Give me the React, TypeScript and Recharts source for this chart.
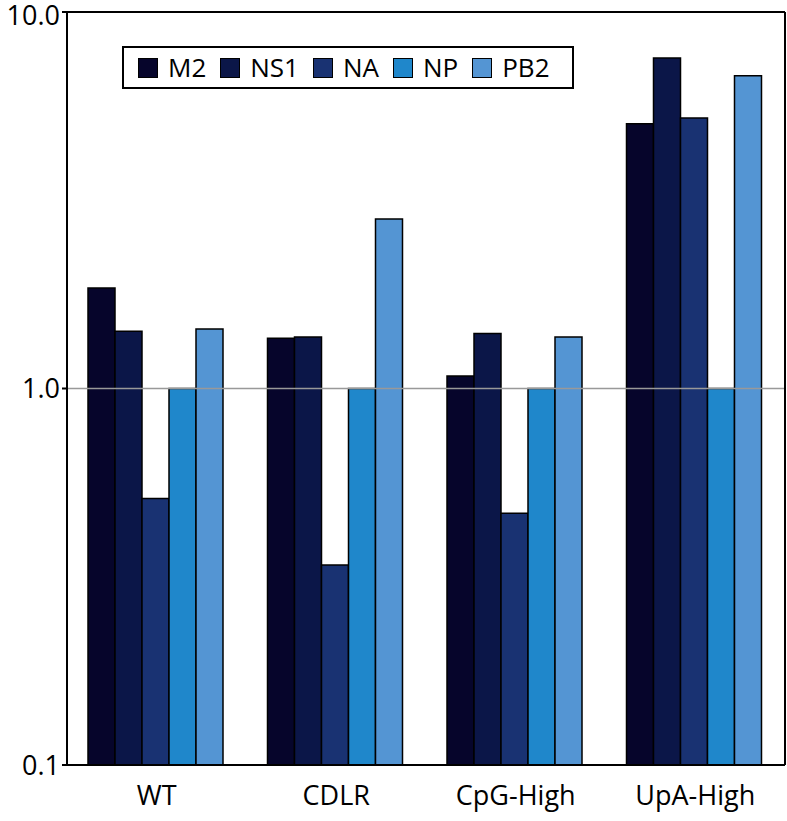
import { BarChart, Bar, XAxis, YAxis, ReferenceLine } from 'recharts';

const categories = ['WT', 'CDLR', 'CpG-High', 'UpA-High'];
const m2 = [1.85, 1.36, 1.08, 5.05];
const ns1 = [1.42, 1.37, 1.4, 7.55];
const na = [0.51, 0.34, 0.466, 5.23];
const np = [1.0, 1.0, 1.0, 1.0];
const pb2 = [1.44, 2.82, 1.37, 6.77];
const yTicks = [0.1, 1, 10];

const SERIES = [
    { key: 'M2', values: m2, color: '#06052b' },
    { key: 'NS1', values: ns1, color: '#0b1648' },
    { key: 'NA', values: na, color: '#193272' },
    { key: 'NP', values: np, color: '#1f87cb' },
    { key: 'PB2', values: pb2, color: '#5495d3' },
];

const data = categories.map((name) => {
    const row: Record<string, string | number> = { name };
    return row;
});
SERIES.forEach((s) => {
    s.values.forEach((v, i) => {
        data[i][s.key] = v;
    });
});

const FONT = '"Open Sans", "Noto Sans", sans-serif';

// legend drawn as an overlay box, like the original's framed key
function LegendBox() {
    return (
        <div
            style={{
                position: 'absolute',
                left: 122,
                top: 46,
                width: 434,
                height: 39,
                boxSizing: 'content-box',
                display: 'flex',
                alignItems: 'center',
                border: '2px solid #000',
                background: '#fff',
                paddingLeft: 14,
                fontFamily: FONT,
                fontSize: 26,
                lineHeight: '39px',
                whiteSpace: 'nowrap',
            }}
        >
            {SERIES.map((s) => (
                <span key={s.key} style={{ display: 'inline-flex', alignItems: 'center', marginRight: 14 }}>
                    <span
                        style={{
                            width: 18,
                            height: 18,
                            background: s.color,
                            border: '1.5px solid #000',
                            marginRight: 10,
                            display: 'inline-block',
                        }}
                    />
                    {s.key}
                </span>
            ))}
        </div>
    );
}

export default function App() {
    return (
        <div style={{ position: 'absolute', left: 0, top: 0, background: '#fff' }}>
            <BarChart
                width={787}
                height={821}
                data={data}
                margin={{ top: 11, right: 1, left: 0, bottom: 0 }}
                barCategoryGap="11.7%"
                barGap={0}
            >
                {/* plain axis carrying the tick marks between groups */}
                <XAxis
                    type="number"
                    domain={[0, 4]}
                    ticks={[1, 2, 3]}
                    height={1}
                    tick={false}
                    tickSize={9}
                    axisLine={{ stroke: '#000', strokeWidth: 2 }}
                    tickLine={{ stroke: '#000', strokeWidth: 2 }}
                />
                <XAxis
                    xAxisId="cat"
                    dataKey="name"
                    height={55}
                    axisLine={false}
                    tickLine={false}
                    tick={{ fill: '#000', fontSize: 27, fontFamily: FONT }}
                    dy={12}
                />
                <XAxis
                    xAxisId="top"
                    orientation="top"
                    dataKey="name"
                    height={1}
                    tick={false}
                    tickLine={false}
                    axisLine={{ stroke: '#000', strokeWidth: 2 }}
                />
                <YAxis
                    scale="log"
                    domain={[0.1, 10]}
                    ticks={yTicks}
                    allowDataOverflow
                    width={67}
                    tickFormatter={(v: number) => v.toFixed(1)}
                    tick={{ fill: '#000', fontSize: 27, fontFamily: FONT }}
                    tickSize={5}
                    tickMargin={2}
                    axisLine={{ stroke: '#000', strokeWidth: 2 }}
                    tickLine={{ stroke: '#000', strokeWidth: 2 }}
                />
                <YAxis
                    yAxisId="right"
                    orientation="right"
                    width={1}
                    tick={false}
                    tickLine={false}
                    axisLine={{ stroke: '#000', strokeWidth: 2 }}
                />
                <ReferenceLine y={1} xAxisId="cat" stroke="#999" strokeWidth={1.5} />
                {SERIES.map((s) => (
                    <Bar
                        key={s.key}
                        xAxisId="cat"
                        dataKey={s.key}
                        fill={s.color}
                        stroke="#000"
                        strokeWidth={1.5}
                        isAnimationActive={false}
                    />
                ))}
            </BarChart>
            <LegendBox />
        </div>
    );
}
